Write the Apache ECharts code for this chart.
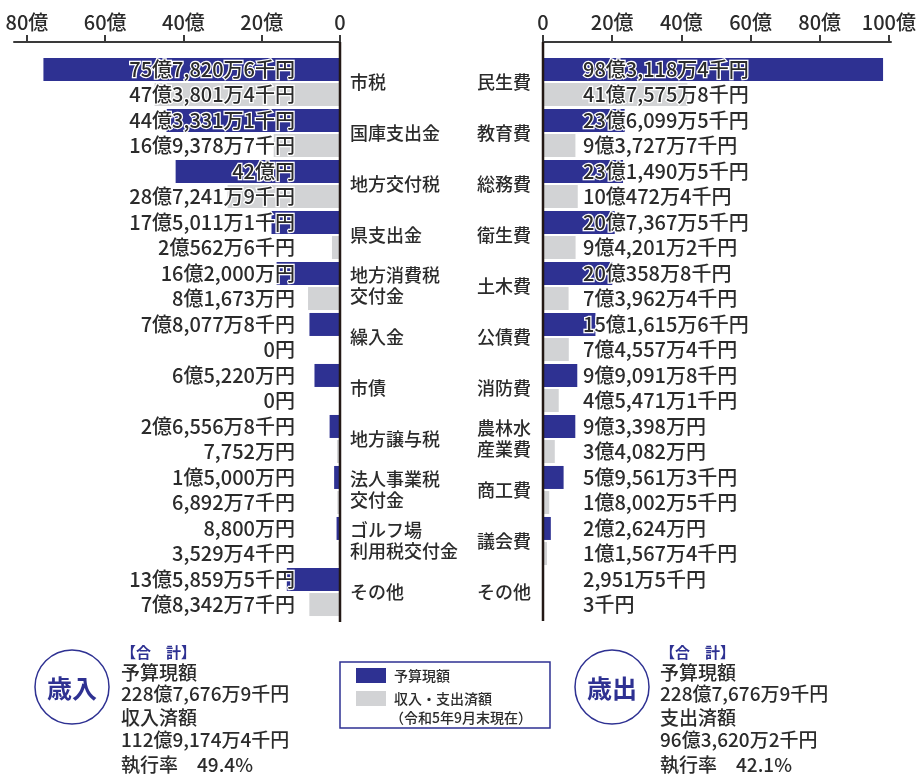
<!DOCTYPE html>
<html>
<head>
<meta charset="utf-8">
<script src="https://cdn.jsdelivr.net/npm/echarts@6/dist/echarts.min.js"></script>
<style>
  html, body { margin: 0; padding: 0; background: #fff; }
  #main { width: 919px; height: 775px; }
</style>
</head>
<body>
<div id="main"></div>
<script>
// 歳入 (億円)
const revCats = ['市税', '国庫支出金', '地方交付税', '県支出金', '地方消費税\n交付金', '繰入金', '市債', '地方譲与税', '法人事業税\n交付金', 'ゴルフ場\n利用税交付金', 'その他'];
const revBudget = [75.78206, 44.33311, 42.0, 17.50111, 16.2, 7.80778, 6.522, 2.65568, 1.5, 0.88, 13.58595];
const revDone = [47.38014, 16.93787, 28.72419, 2.05626, 8.1673, 0, 0, 0.7752, 0.68927, 0.35294, 7.83427];
const revBudgetText = ['75億7,820万6千円', '44億3,331万1千円', '42億円', '17億5,011万1千円', '16億2,000万円', '7億8,077万8千円', '6億5,220万円', '2億6,556万8千円', '1億5,000万円', '8,800万円', '13億5,859万5千円'];
const revDoneText = ['47億3,801万4千円', '16億9,378万7千円', '28億7,241万9千円', '2億562万6千円', '8億1,673万円', '0円', '0円', '7,752万円', '6,892万7千円', '3,529万4千円', '7億8,342万7千円'];

// 歳出 (億円)
const expCats = ['民生費', '教育費', '総務費', '衛生費', '土木費', '公債費', '消防費', '農林水\n産業費', '商工費', '議会費', 'その他'];
const expBudget = [98.31184, 23.60995, 23.14905, 20.73675, 20.03588, 15.16156, 9.90918, 9.3398, 5.95613, 2.2624, 0.295135];
const expDone = [41.75758, 9.37277, 10.04724, 9.42012, 7.39624, 7.45574, 4.54711, 3.4082, 1.80025, 1.15674, 0.00003];
const expBudgetText = ['98億3,118万4千円', '23億6,099万5千円', '23億1,490万5千円', '20億7,367万5千円', '20億358万8千円', '15億1,615万6千円', '9億9,091万8千円', '9億3,398万円', '5億9,561万3千円', '2億2,624万円', '2,951万5千円'];
const expDoneText = ['41億7,575万8千円', '9億3,727万7千円', '10億472万4千円', '9億4,201万2千円', '7億3,962万4千円', '7億4,557万4千円', '4億5,471万1千円', '3億4,082万円', '1億8,002万5千円', '1億1,567万4千円', '3千円'];

const revTicks = [0, 20, 40, 60, 80];
const expTicks = [0, 20, 40, 60, 80, 100];

const revTotal = ['予算現額', '228億7,676万9千円', '収入済額', '112億9,174万4千円', '執行率　49.4%'];
const expTotal = ['予算現額', '228億7,676万9千円', '支出済額', '96億3,620万2千円', '執行率　42.1%'];

const NAVY = '#2e3192';
const GRAY = '#d2d3d5';
const INK = '#2b2b2b';
const FONT = '"Noto Sans CJK JP", "Noto Sans", sans-serif';

const chart = echarts.init(document.getElementById('main'));

const tickFmt = v => (v === 0 ? '0' : v + '億');

function xAxisOf(grid, max, ticks, inverse) {
  return {
    gridIndex: grid,
    type: 'value',
    position: 'top',
    offset: 14.5,
    inverse: inverse,
    min: 0,
    max: max,
    axisLine: { show: true, onZero: false, lineStyle: { color: '#3a3a3a', width: 2 } },
    axisTick: { show: true, length: 7, customValues: ticks, lineStyle: { color: '#3a3a3a', width: 2 } },
    axisLabel: { customValues: ticks, formatter: tickFmt, fontSize: 20, fontWeight: 500, color: INK, margin: 10, fontFamily: FONT },
    splitLine: { show: false }
  };
}

// 金額ラベルは軸から一定距離に置く（棒の長さに関係なく）
function barLabel(texts, side) {
  const l = {
    show: true,
    formatter: p => texts[p.dataIndex],
    fontSize: 20,
    fontWeight: 500,
    color: INK,
    fontFamily: FONT,
    textBorderColor: '#fff',
    textBorderWidth: 2.5,
    verticalAlign: 'middle'
  };
  if (side === 'left') {
    l.position = ['100%', '50%'];
    l.offset = [-45, 0];
    l.align = 'right';
  } else {
    l.position = [40, '50%'];
    l.align = 'left';
  }
  return l;
}

function bar(name, xi, data, color, texts, side) {
  return {
    name: name,
    type: 'bar',
    xAxisIndex: xi,
    yAxisIndex: xi,
    data: data,
    barWidth: 23,
    barGap: '9%',
    itemStyle: { color: color },
    label: barLabel(texts, side)
  };
}

// 合計欄
function totalBlock(x, lines) {
  const ys = [673, 694, 718, 740, 765];
  const els = [{
    type: 'text', x: x, y: 652,
    style: { text: '【合　計】', fill: NAVY, font: 'bold 15px ' + FONT, textVerticalAlign: 'middle' }
  }];
  lines.forEach((t, i) => {
    els.push({ type: 'text', x: x, y: ys[i], style: { text: t, fill: INK, font: '500 19px ' + FONT, textVerticalAlign: 'middle' } });
  });
  return els;
}

function badge(cx, text) {
  return [
    { type: 'circle', shape: { cx: cx, cy: 687, r: 37 }, style: { fill: '#fff', stroke: NAVY, lineWidth: 1.5 } },
    { type: 'text', x: cx, y: 688, style: { text: text, fill: NAVY, font: 'bold 25px ' + FONT, textAlign: 'center', textVerticalAlign: 'middle' } }
  ];
}

const option = {
  animation: false,
  textStyle: { fontFamily: FONT },
  grid: [
    { left: 14, top: 56.5, width: 326, height: 561 },
    { left: 543, top: 56.5, width: 348, height: 561 }
  ],
  xAxis: [
    xAxisOf(0, 83.3, revTicks, true),
    xAxisOf(1, 100.6, expTicks, false)
  ],
  yAxis: [
    {
      gridIndex: 0, type: 'category', data: revCats, inverse: true, position: 'right',
      axisLine: { show: false }, axisTick: { show: false },
      axisLabel: { align: 'left', margin: 10, fontSize: 18, fontWeight: 500, lineHeight: 21, color: INK, fontFamily: FONT }
    },
    {
      gridIndex: 1, type: 'category', data: expCats, inverse: true, position: 'left',
      axisLine: { show: false }, axisTick: { show: false },
      axisLabel: { align: 'right', margin: 12, fontSize: 18, fontWeight: 500, lineHeight: 21, color: INK, fontFamily: FONT }
    }
  ],
  legend: {
    left: 340, top: 662,
    orient: 'vertical',
    data: ['予算現額', '収入・支出済額'],
    icon: 'rect',
    itemWidth: 30, itemHeight: 15, itemGap: 8,
    padding: [6, 58, 22, 16],
    borderColor: NAVY, borderWidth: 1.5,
    selectedMode: false,
    textStyle: { fontSize: 14, fontWeight: 500, color: INK, fontFamily: FONT, padding: [0, 0, 0, 3] }
  },
  series: [
    bar('予算現額', 0, revBudget, NAVY, revBudgetText, 'left'),
    bar('収入・支出済額', 0, revDone, GRAY, revDoneText, 'left'),
    bar('予算現額', 1, expBudget, NAVY, expBudgetText, 'right'),
    bar('収入・支出済額', 1, expDone, GRAY, expDoneText, 'right')
  ],
  graphic: [
    { type: 'line', shape: { x1: 340, y1: 42, x2: 340, y2: 622 }, style: { stroke: '#231815', lineWidth: 2.5 }, z: 10 },
    { type: 'line', shape: { x1: 543, y1: 42, x2: 543, y2: 621 }, style: { stroke: '#231815', lineWidth: 2.5 }, z: 10 },
    { type: 'text', x: 390, y: 718, style: { text: '（令和5年9月末現在）', fill: INK, font: '500 14px ' + FONT, textVerticalAlign: 'middle' } }
  ]
    .concat(badge(72, '歳入'))
    .concat(totalBlock(121, revTotal))
    .concat(badge(612, '歳出'))
    .concat(totalBlock(660, expTotal))
};

chart.setOption(option);
</script>
</body>
</html>
